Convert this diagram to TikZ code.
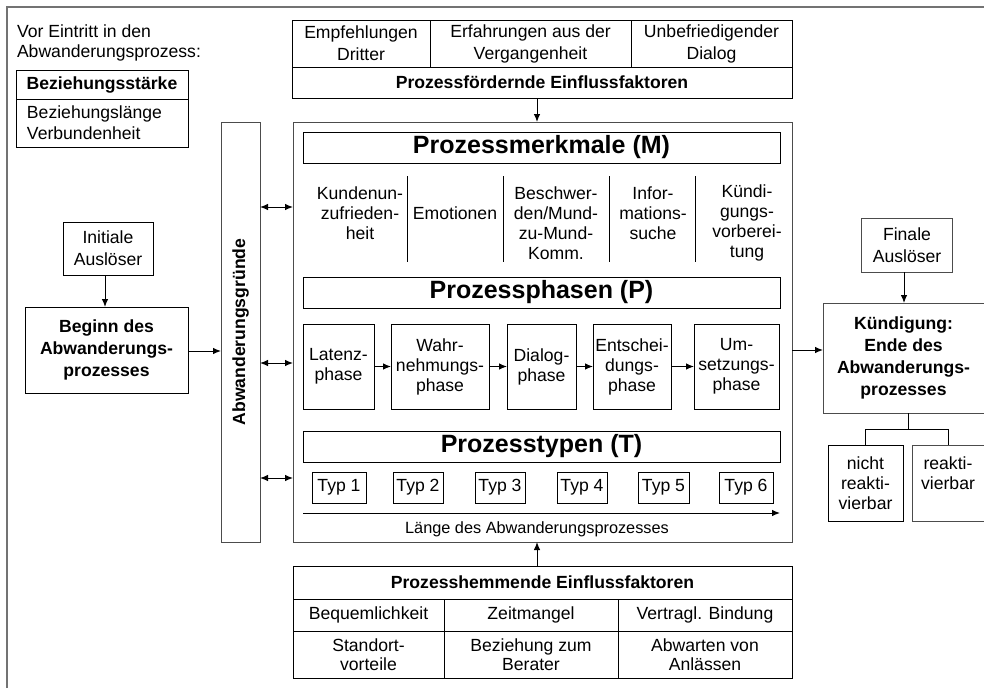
\documentclass[tikz,border=0pt]{standalone}
\usepackage{fontspec}
\setmainfont{Liberation Sans}
\usetikzlibrary{arrows.meta}
\begin{document}
\begin{tikzpicture}[x=1pt,y=-1pt,
  box/.style={draw=black, line width=1pt, inner sep=0pt, outer sep=0pt, align=center,
              font=\fontsize{17.6}{20}\selectfont},
  gbox/.style={box, draw=black!70},
  bbox/.style={box, font=\fontsize{17.6}{22}\selectfont\bfseries},
  ttl/.style={box, font=\fontsize{25}{28}\selectfont\bfseries},
  txt/.style={inner sep=0pt, outer sep=0pt, align=center, font=\fontsize{17.6}{20}\selectfont},
  sep/.style={line width=1pt, draw=black},
  arr/.style={-{Latex[length=8pt,width=6.5pt]}, line width=1pt},
  darr/.style={{Latex[length=8pt,width=6.5pt]}-{Latex[length=8pt,width=6.5pt]}, line width=1pt}
]
\useasboundingbox (0,0) rectangle (984,688);
% outer frame
\draw[black!55, line width=1.4pt] (7,688) -- (7,7) -- (984,7);

% left info
\node[txt, align=left, anchor=west] (vor) at (17,43) {Vor Eintritt in den\\Abwanderungsprozess:};
\node[bbox, minimum width=172pt, minimum height=29pt] (bst) at (102,84.5) {Beziehungsstärke};
\node[box, minimum width=172pt, minimum height=48pt, text width=150pt, align=left,
      inner xsep=11pt, font=\fontsize{17.6}{21}\selectfont] (blen) at (102,123) {Beziehungslänge\\Verbundenheit};

% top box
\node[box, minimum width=138pt, minimum height=47pt, font=\fontsize{17.6}{22}\selectfont] (f1) at (361,43.5) {Empfehlungen\\Dritter};
\node[box, minimum width=201pt, minimum height=47pt, font=\fontsize{17.6}{22}\selectfont] (f2) at (530.5,43.5) {Erfahrungen aus der\\Vergangenheit};
\node[box, minimum width=161pt, minimum height=47pt, font=\fontsize{17.6}{22}\selectfont] (f3) at (711.5,43.5) {Unbefriedigender\\Dialog};
\node[bbox, minimum width=500pt, minimum height=31pt] (ft) at (542,82.5) {Prozessfördernde Einflussfaktoren};

% main box and bar
\node[gbox, minimum width=499pt, minimum height=420pt] (main) at (542.5,332) {};
\node[gbox, minimum width=39pt, minimum height=420pt] (bar) at (240.5,332) {};
\node[inner sep=0pt, rotate=90, font=\fontsize{17.6}{20}\selectfont\bfseries] (bart) at (bar.center) {Abwanderungsgründe};

% Prozessmerkmale
\node[ttl, minimum width=477pt, minimum height=31pt] (mt) at (541.5,147.5) {Prozessmerkmale (M)};
\node[txt] (m1) at (360,213) {Kundenun-\\zufrieden-\\heit};
\node[txt] (m2) at (455,213) {Emotionen};
\node[txt] (m3) at (556,223) {Beschwer-\\den/Mund-\\zu-Mund-\\Komm.};
\node[txt] (m4) at (653,213) {Infor-\\mations-\\suche};
\node[txt] (m5) at (747,223) {Kündi-\\gungs-\\vorberei-\\tung};
\draw[sep] (407,176) -- (407,262);
\draw[sep] (503,176) -- (503,262);
\draw[sep] (609,176) -- (609,262);
\draw[sep] (695,176) -- (695,262);

% Prozessphasen
\node[ttl, minimum width=477pt, minimum height=31pt] (pt) at (541.5,292.5) {Prozessphasen (P)};
\node[box, minimum width=71pt, minimum height=85pt] (p1) at (338.5,366.5) {Latenz-\\phase};
\node[box, minimum width=98pt, minimum height=85pt] (p2) at (440,366.5) {Wahr-\\nehmungs-\\phase};
\node[box, minimum width=69pt, minimum height=85pt] (p3) at (541.5,366.5) {Dialog-\\phase};
\node[box, minimum width=78pt, minimum height=85pt] (p4) at (632,366.5) {Entschei-\\dungs-\\phase};
\node[box, minimum width=85pt, minimum height=85pt] (p5) at (736.5,366.5) {Um-\\setzungs-\\phase};
\draw[arr] (p1) -- (p2);
\draw[arr] (p2) -- (p3);
\draw[arr] (p3) -- (p4);
\draw[arr] (p4) -- (p5);

% Prozesstypen
\node[ttl, minimum width=477pt, minimum height=31pt] (tt) at (541.5,446.5) {Prozesstypen (T)};
\node[box, minimum width=54pt, minimum height=31pt] (t1) at (339,487.5) {Typ 1};
\node[box, minimum width=50pt, minimum height=31pt] (t2) at (418,487.5) {Typ 2};
\node[box, minimum width=50pt, minimum height=31pt] (t3) at (500,487.5) {Typ 3};
\node[box, minimum width=50pt, minimum height=31pt] (t4) at (582,487.5) {Typ 4};
\node[box, minimum width=51pt, minimum height=31pt] (t5) at (663.5,487.5) {Typ 5};
\node[box, minimum width=54pt, minimum height=31pt] (t6) at (746,487.5) {Typ 6};
\coordinate (la) at (303,513);
\coordinate (lb) at (780,513);
\draw[arr] (la) -- (lb);
\node[txt, font=\fontsize{16.3}{20}\selectfont] (lt) at (537,529) {Länge des Abwanderungsprozesses};

% bottom box
\node[bbox, minimum width=499pt, minimum height=33pt] (ht) at (542.5,582.5) {Prozesshemmende Einflussfaktoren};
\node[box, minimum width=151pt, minimum height=32pt] (h1) at (368.5,615) {Bequemlichkeit};
\node[box, minimum width=174pt, minimum height=32pt] (h2) at (531,615) {Zeitmangel};
\node[box, minimum width=174pt, minimum height=32pt] (h3) at (705,615) {Vertragl. Bindung};
\node[box, minimum width=151pt, minimum height=47pt, font=\fontsize{17.6}{19}\selectfont] (h4) at (368.5,654.5) {Standort-\\vorteile};
\node[box, minimum width=174pt, minimum height=47pt, font=\fontsize{17.6}{19}\selectfont] (h5) at (531,654.5) {Beziehung zum\\Berater};
\node[box, minimum width=174pt, minimum height=47pt, font=\fontsize{17.6}{19}\selectfont] (h6) at (705,654.5) {Abwarten von\\Anlässen};

% left chain
\node[box, minimum width=90pt, minimum height=53pt, font=\fontsize{17.6}{22}\selectfont] (ini) at (108,248.5) {Initiale\\Auslöser};
\node[bbox, minimum width=163pt, minimum height=86pt] (beg) at (106.5,350) {Beginn des\\Abwanderungs-\\prozesses};
\draw[arr] ([xshift=-3pt]ini.south) -- ([xshift=-3pt]ini.south |- beg.north);
\draw[arr] ([yshift=-1pt]beg.east) -- ([yshift=-1pt]beg.east -| bar.west);

% bar <-> main
\draw[darr] ([yshift=125pt]bar.east) -- ([yshift=125pt]bar.east -| main.west);
\draw[darr] ([yshift=-31pt]bar.east) -- ([yshift=-31pt]bar.east -| main.west);
\draw[darr] ([yshift=-146pt]bar.east) -- ([yshift=-146pt]bar.east -| main.west);

% top and bottom arrows
\draw[arr] ([xshift=-5pt]ft.south) -- ([xshift=-5pt]ft.south |- main.north);
\draw[arr] ([xshift=-5.5pt]ht.north) -- ([xshift=-5.5pt]ht.north |- main.south);

% right side
\node[gbox, minimum width=91pt, minimum height=54pt, font=\fontsize{17.6}{22}\selectfont] (fin) at (907,245) {Finale\\Auslöser};
\node[gbox, minimum width=161pt, minimum height=110pt, font=\fontsize{17.6}{22}\selectfont\bfseries] (kue) at (903.5,358) {Kündigung:\\Ende des\\Abwanderungs-\\prozesses};
\draw[arr] ([xshift=-3pt]fin.south) -- ([xshift=-3pt]fin.south |- kue.north);
\draw[arr] ([yshift=-18pt]main.east) -- ([yshift=-18pt]main.east -| kue.west);
\node[box, minimum width=75pt, minimum height=76pt] (nr) at (865.5,483) {nicht\\reakti-\\vierbar};
\node[gbox, minimum width=72pt, minimum height=76pt] (rv) at (948,483) {reakti-\\vierbar\\\phantom{vierbar}};
\coordinate (tj) at (908,429);
\draw[sep] (kue.south -| tj) -- (tj);
\draw[sep] (nr.north) -- (nr.north |- tj) -- (rv.north |- tj) -- (rv.north);
\end{tikzpicture}
\end{document}
